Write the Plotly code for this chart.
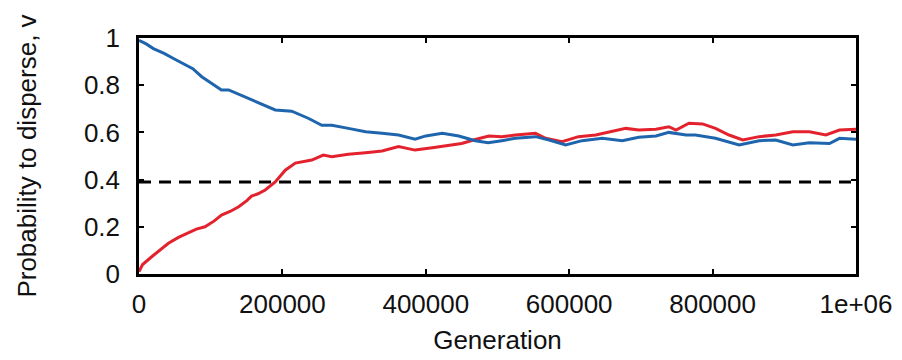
import plotly.graph_objects as go

# Generation values and probability to disperse for each series
blue_gen = [0, 10000, 20000, 35000, 50000, 65000, 75000, 87500, 100000, 115000,
            125000, 140000, 157000, 175000, 190000, 213000, 236000, 255000, 269000,
            292000, 316000, 339000, 362000, 385000, 400000, 423000, 446000, 469000,
            487000, 506000, 525000, 553000, 572000, 595000, 618000, 646000, 674000,
            697000, 721000, 739000, 763000, 776000, 804000, 837000, 865000, 888000,
            912000, 935000, 963000, 977000, 1000000]
blue_v = [0.99, 0.975, 0.955, 0.935, 0.91, 0.885, 0.87, 0.836, 0.81, 0.78,
          0.78, 0.76, 0.737, 0.715, 0.695, 0.69, 0.66, 0.63, 0.63,
          0.617, 0.603, 0.596, 0.589, 0.571, 0.585, 0.596, 0.585, 0.565,
          0.556, 0.565, 0.575, 0.582, 0.568, 0.547, 0.565, 0.575, 0.565,
          0.579, 0.585, 0.600, 0.589, 0.589, 0.575, 0.547, 0.565, 0.568,
          0.547, 0.556, 0.553, 0.575, 0.571]

red_gen = [0, 5000, 17700, 30000, 41000, 55000, 69000, 80000, 92000, 105000,
           115000, 127000, 139000, 150000, 157000, 166000, 176000, 190000, 204000,
           218000, 241000, 257000, 269000, 292000, 316000, 339000, 362000, 385000,
           409000, 432000, 450000, 469000, 488000, 506000, 525000, 553000, 567000,
           590000, 613000, 637000, 660000, 679000, 697000, 721000, 739000, 749000,
           767000, 786000, 804000, 823000, 842000, 865000, 888000, 912000, 935000,
           958000, 977000, 1000000]
red_v = [0.01, 0.04, 0.073, 0.105, 0.13, 0.155, 0.175, 0.19, 0.2, 0.225,
         0.25, 0.265, 0.285, 0.31, 0.33, 0.34, 0.356, 0.39, 0.44,
         0.47, 0.483, 0.504, 0.497, 0.507, 0.514, 0.521, 0.54, 0.525,
         0.535, 0.544, 0.553, 0.57, 0.585, 0.582, 0.589, 0.596, 0.575,
         0.561, 0.582, 0.589, 0.603, 0.617, 0.61, 0.613, 0.624, 0.61,
         0.639, 0.636, 0.617, 0.589, 0.568, 0.582, 0.589, 0.603, 0.603,
         0.589, 0.61, 0.613]

threshold_gen = [0, 1000000]
threshold_v = [0.39, 0.39]

x_tickvals = [0, 200000, 400000, 600000, 800000, 1000000]
x_ticktext = ["0", "200000", "400000", "600000", "800000", "1e+06"]
y_tickvals = [0, 0.2, 0.4, 0.6, 0.8, 1]
y_ticktext = ["0", "0.2", "0.4", "0.6", "0.8", "1"]

FONT = "Liberation Sans, Arial, Helvetica, sans-serif"
FS = 26

fig = go.Figure()
fig.add_trace(go.Scatter(x=threshold_gen, y=threshold_v, mode="lines",
                         line=dict(color="black", width=3, dash="12px,8px"),
                         showlegend=False, hoverinfo="skip"))
fig.add_trace(go.Scatter(x=red_gen, y=red_v, mode="lines",
                         line=dict(color="#e3222e", width=3),
                         showlegend=False))
fig.add_trace(go.Scatter(x=blue_gen, y=blue_v, mode="lines",
                         line=dict(color="#1f65ad", width=3),
                         showlegend=False))

fig.update_layout(
    width=902, height=360,
    margin=dict(l=139, r=46, t=38, b=86),
    paper_bgcolor="white", plot_bgcolor="white",
    font=dict(family=FONT, size=FS, color="#111111"),
    showlegend=False,
)
fig.update_xaxes(
    range=[0, 1000000], tickvals=x_tickvals, ticktext=x_ticktext,
    showline=True, linecolor="black", linewidth=2.5, mirror="ticks",
    ticks="inside", ticklen=5, tickwidth=2, tickcolor="black",
    showgrid=False, zeroline=False, automargin=False,
    title=dict(text="Generation", font=dict(family=FONT, size=FS), standoff=13),
    tickfont=dict(family=FONT, size=FS), ticklabelstandoff=5,
)
fig.update_yaxes(
    range=[0, 1], tickvals=y_tickvals, ticktext=y_ticktext,
    showline=True, linecolor="black", linewidth=2.5, mirror="ticks",
    ticks="inside", ticklen=5, tickwidth=2, tickcolor="black",
    showgrid=False, zeroline=False, automargin=False,
    title=dict(text="Probability to disperse, v", font=dict(family=FONT, size=FS), standoff=40),
    tickfont=dict(family=FONT, size=FS), ticklabelstandoff=11,
)

fig.write_html("out.html")
